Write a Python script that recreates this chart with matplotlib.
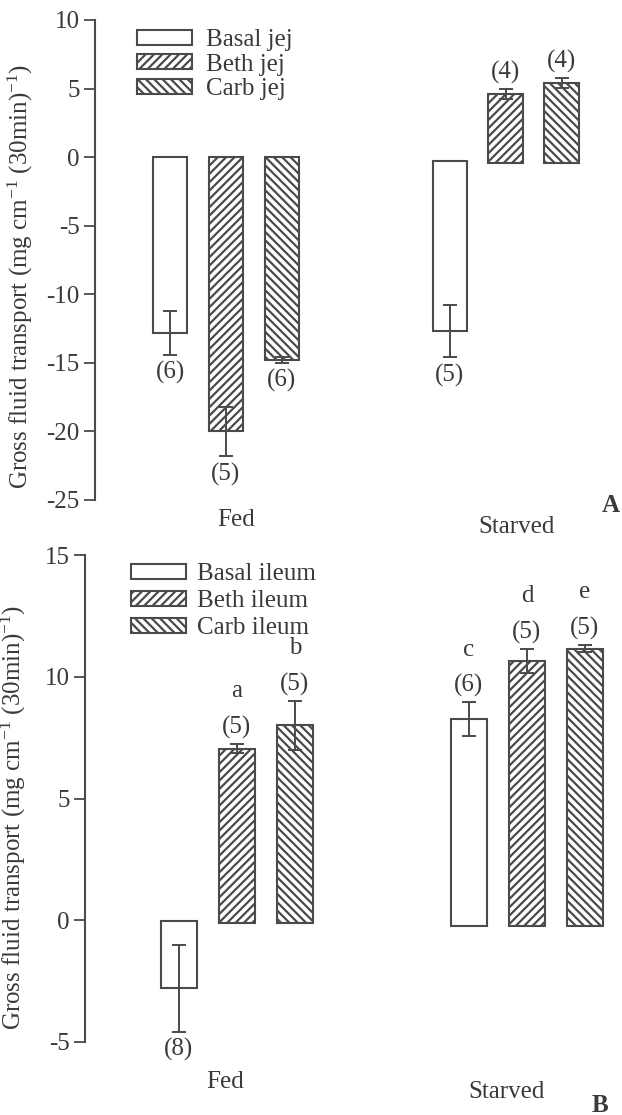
import numpy as np
import matplotlib
matplotlib.use('Agg')
import matplotlib.pyplot as plt
import matplotlib.transforms as mtransforms

plt.rcParams['font.family'] = 'Liberation Serif'
plt.rcParams['mathtext.default'] = 'regular'
plt.rcParams['axes.unicode_minus'] = False
plt.rcParams['hatch.linewidth'] = 1.6

# data
groups = ['Fed', 'Starved']
xpos = [0, 1, 2, 5, 6, 7]

# panel A: jejunum
labels_A = ['Basal jej', 'Beth jej', 'Carb jej']
mean_A = [-12.8, -20.0, -14.8, -12.7, 4.6, 5.4]
sem_A = [1.6, 1.8, 0.2, 1.9, 0.35, 0.37]
base_A = [0, 0, 0, -0.25, -0.4, -0.4]
n_A = ['(6)', '(5)', '(6)', '(5)', '(4)', '(4)']

# panel B: ileum
labels_B = ['Basal ileum', 'Beth ileum', 'Carb ileum']
mean_B = [-2.8, 7.05, 8.0, 8.25, 10.65, 11.15]
sem_B = [1.78, 0.18, 1.0, 0.7, 0.5, 0.15]
base_B = [-0.05, -0.1, -0.1, -0.25, -0.25, -0.25]
n_B = ['(8)', '(5)', '(5)', '(6)', '(5)', '(5)']
sig_B = ['', 'a', 'b', 'c', 'd', 'e']

hatches = ['', '////', '\\\\\\\\']
lc = '#4a4a4a'
tc = '#3a3a3a'
fs = 18
ylab = 'Gross fluid transport (mg cm$^{-1}$ (30min)$^{-1}$)'


def panel(ax, mean, sem, base, nlab, labels, sig=None):
    for i, x in enumerate(xpos):
        ax.bar(x, mean[i] - base[i], bottom=base[i], width=0.62, color='white',
               edgecolor=lc, hatch=hatches[i % 3], linewidth=1.5,
               label=labels[i] if i < 3 else None, zorder=2)
    ax.errorbar(xpos, mean, yerr=sem, fmt='none', ecolor=lc, elinewidth=1.4,
                capsize=5, capthick=1.4, zorder=3)
    for i, x in enumerate(xpos):
        if mean[i] < 0:
            ax.annotate(nlab[i], (x, mean[i] - sem[i]), xytext=(0, -13),
                        textcoords='offset points', ha='center', va='center',
                        fontsize=fs, color=tc)
        else:
            ax.annotate(nlab[i], (x, mean[i] + sem[i]), xytext=(0, 12),
                        textcoords='offset points', ha='center', va='center',
                        fontsize=fs, color=tc)
            if sig is not None and sig[i]:
                ax.annotate(sig[i], (x, mean[i] + sem[i]), xytext=(0, 38),
                            textcoords='offset points', ha='center', va='center',
                            fontsize=fs, color=tc)
    for s in ['top', 'right', 'bottom']:
        ax.spines[s].set_visible(False)
    ax.spines['left'].set_color(lc)
    ax.spines['left'].set_linewidth(1.5)
    ax.set_xticks([])
    ax.tick_params(axis='y', direction='out', length=8, width=1.3, color=lc,
                   labelsize=fs, labelcolor=tc, pad=3)
    ax.set_ylabel(ylab, fontsize=fs, color=tc)


fig = plt.figure(figsize=(6.22, 11.15), dpi=100)
W, H = 622.0, 1115.0

axA = fig.add_axes([95 / W, 1 - 500 / H, 506 / W, 480 / H])
panel(axA, mean_A, sem_A, base_A, n_A, labels_A)
axA.set_xlim(-1.34, 7.7)
axA.set_ylim(-25, 10)
axA.set_yticks(np.arange(-25, 11, 5))
axA.yaxis.set_label_coords(-0.119, 0.465)
axA.legend(loc='upper left', bbox_to_anchor=(137 / W, 1 - 29 / H),
           bbox_transform=fig.transFigure, frameon=False, fontsize=fs,
           borderpad=0, borderaxespad=0, handlelength=2.2, handleheight=0.55,
           handletextpad=0.55, labelspacing=0.1, labelcolor=tc)
trA = mtransforms.blended_transform_factory(axA.transData, axA.transAxes)
axA.text(1.18, -0.042, groups[0], transform=trA, ha='center', va='center',
         fontsize=fs, color=tc)
axA.text(6.2, -0.056, groups[1], transform=trA, ha='center', va='center',
         fontsize=fs, color=tc)
fig.text(611 / W, 1 - 505 / H, 'A', ha='center', va='center', fontsize=fs,
         fontweight='bold', color=tc)

axB = fig.add_axes([85 / W, 1 - 1042 / H, 529 / W, 487 / H])
panel(axB, mean_B, sem_B, base_B, n_B, labels_B, sig_B)
axB.set_xlim(-1.62, 7.5)
axB.set_ylim(-5, 15)
axB.set_yticks(np.arange(-5, 16, 5))
axB.yaxis.set_label_coords(-0.108, 0.462)
axB.legend(loc='upper left', bbox_to_anchor=(131 / W, 1 - 563 / H),
           bbox_transform=fig.transFigure, frameon=False, fontsize=fs,
           borderpad=0, borderaxespad=0, handlelength=2.2, handleheight=0.55,
           handletextpad=0.45, labelspacing=0.2, labelcolor=tc)
trB = mtransforms.blended_transform_factory(axB.transData, axB.transAxes)
axB.text(0.8, -0.082, groups[0], transform=trB, ha='center', va='center',
         fontsize=fs, color=tc)
axB.text(5.64, -0.103, groups[1], transform=trB, ha='center', va='center',
         fontsize=fs, color=tc)
fig.text(600 / W, 1 - 1105 / H, 'B', ha='center', va='center', fontsize=fs,
         fontweight='bold', color=tc)

fig.savefig('out.png', dpi=100)
